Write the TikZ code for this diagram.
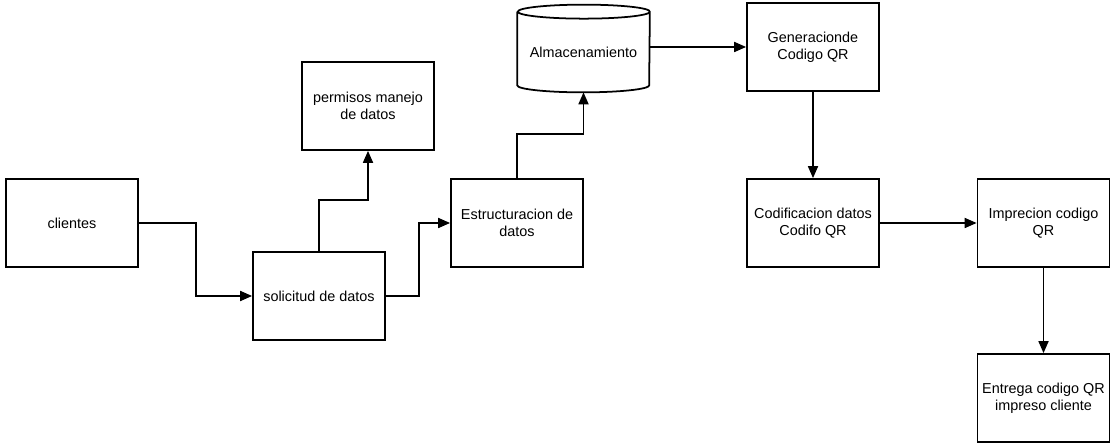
\documentclass[tikz,border=0pt]{standalone}
\usepackage{fontspec}
\setmainfont{Liberation Sans}
\usetikzlibrary{arrows.meta}

\begin{document}
\begin{tikzpicture}[
        box/.style={draw, line width=1pt, minimum width=2.64cm, minimum height=1.76cm,
                    align=center, inner sep=1pt, font=\fontsize{8.2}{9.5}\selectfont},
        storebox/.style={minimum width=2.64cm, minimum height=1.6cm,
                    align=center, inner sep=1pt, font=\fontsize{8.2}{9.5}\selectfont},
        flow/.style={line width=1pt, -{Triangle[length=0.24cm, width=0.2cm]}}
    ]

        \useasboundingbox (0,0) rectangle (22.26,8.92);

        % left part

        \node[box] (cli) at (1.44,4.46) {clientes};
        \node[box] (sol) at (6.38,3.00) {solicitud de datos};
        \node[box] (perm) at (7.36,6.80) {permisos manejo\\de datos};
        \node[box] (estr) at (10.34,4.46) {Estructuracion de\\datos};

        % storage

        \node[storebox] (alm) at (11.67,7.88) {Almacenamiento};
        \draw[line width=1pt] (alm.north west) -- ([yshift=0.14cm]alm.south west)
            arc (180:360:1.32 and 0.14) -- (alm.north east)
            arc (0:360:1.32 and 0.14);

        % right part

        \node[box] (gen) at (16.26,7.98) {Generacionde\\Codigo QR};
        \node[box] (cod) at (16.26,4.46) {Codificacion datos\\Codifo QR};
        \node[box] (imp) at (20.87,4.46) {Imprecion codigo\\QR};
        \node[box] (ent) at (20.87,0.96) {Entrega codigo QR\\impreso cliente};

        % connectors

        \draw[flow] (cli.east) -- ++(1.14,0) |- (sol.west);
        \draw[flow] (sol.north) -- ++(0,1.02) -| (perm.south);
        \draw[flow] (sol.east) -- ++(0.66,0) |- (estr.west);
        \draw[flow] (estr.north) -- ++(0,0.88) -| (alm.south);
        \draw[flow] (alm.east |- gen.west) -- (gen.west);
        \draw[flow] (gen.south) -- (cod.north);
        \draw[flow] (cod.east) -- (imp.west);
        \draw[flow] (imp.south) -- (ent.north);

    \end{tikzpicture}
\end{document}
